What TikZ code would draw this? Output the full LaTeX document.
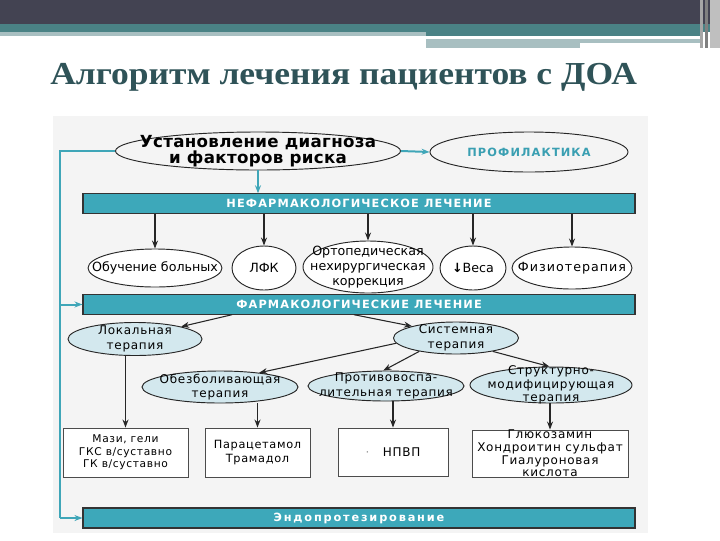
\documentclass[tikz,border=0pt]{standalone}
\usepackage{fontspec}
\usepackage{graphicx}
\setmainfont{DejaVu Sans}
\newfontfamily\titlefont{Liberation Serif}
\usetikzlibrary{shapes.geometric,arrows.meta,calc}
\definecolor{hdark}{HTML}{434352}
\definecolor{hteal}{HTML}{4A8285}
\definecolor{hlight}{HTML}{A8BFC1}
\definecolor{titlecol}{HTML}{2F5358}
\definecolor{barteal}{HTML}{3DA8BA}
\definecolor{lineteal}{HTML}{3FA6B8}
\definecolor{profteal}{HTML}{3A9FB2}
\definecolor{lblue}{HTML}{D3E8EE}
\definecolor{scan}{HTML}{F4F4F4}
\tikzset{
  bar/.style={draw=black!80, line width=0.8pt, fill=barteal, minimum width=414pt,
    minimum height=14.5pt, inner sep=0pt, text=white,
    font=\bfseries\fontsize{8.5}{10}\selectfont\addfontfeature{LetterSpace=10}},
  ov/.style={ellipse, draw=black!85, line width=0.7pt, inner sep=-80pt, align=center,
    fill=white, font=\fontsize{9.5}{11}\selectfont},
  bl/.style={ov, fill=lblue, font=\fontsize{9}{11}\selectfont\addfontfeature{LetterSpace=6}},
  bx/.style={rectangle, draw=black!70, line width=0.7pt, fill=white, inner sep=0pt,
    align=center, font=\fontsize{8}{9.5}\selectfont\addfontfeature{LetterSpace=6}},
  arr/.style={-{Stealth[length=6pt,width=4.5pt]}, line width=0.8pt, draw=black!85},
  tarr/.style={-{Stealth[length=6pt,width=4.5pt]}, line width=1.5pt, draw=lineteal},
  tline/.style={line width=1.5pt, draw=lineteal}
}
\begin{document}
\begin{tikzpicture}[x=0.75pt,y=-0.75pt]
\useasboundingbox (0,0) rectangle (720,540);
% header
\fill[white] (0,0) rectangle (720,540);
\fill[hdark] (0,0) rectangle (720,24);
\fill[hteal] (0,24) rectangle (720,32);
\fill[hlight] (0,32) rectangle (426,36);
\fill[hteal] (426,32) rectangle (700,36);
\fill[hlight] (426,39) rectangle (700,43);
\fill[hlight] (426,43) rectangle (580,48);
\fill[black!35] (700,0) rectangle (703,48);
\fill[black!50] (705,0) rectangle (708,48);
\fill[black!25] (710,0) rectangle (720,48);
% title
\node[anchor=base west, inner sep=0pt, text=titlecol] (title) at (50,84)
  {\scalebox{1.11}[1]{\titlefont\bfseries\fontsize{24}{28}\selectfont Алгоритм лечения пациентов с ДОА}};
% scanned area
\fill[scan] (53,116) rectangle (648,533);
% top ellipses
\node[ov, fill=none, minimum width=213.75pt, minimum height=28.5pt,
  font=\bfseries\fontsize{12.5}{11.5}\selectfont\addfontfeature{LetterSpace=2}] (diag) at (258,151)
  {Установление диагноза\\и факторов риска};
\node[ov, fill=none, minimum width=148.5pt, minimum height=30pt, text=profteal,
  font=\bfseries\fontsize{8.5}{9}\selectfont\addfontfeature{LetterSpace=10}] (prof) at (529,152) {ПРОФИЛАКТИКА};
% bars
\node[bar] (bar1) at (359,203.5) {НЕФАРМАКОЛОГИЧЕСКОЕ ЛЕЧЕНИЕ};
\node[bar] (bar2) at (359,304.5) {ФАРМАКОЛОГИЧЕСКИЕ ЛЕЧЕНИЕ};
\node[bar, minimum height=15pt, font=\bfseries\fontsize{8.5}{10}\selectfont\addfontfeature{LetterSpace=16}] (bar3) at (359,518) {Эндопротезирование};
% row 2
\node[ov, minimum width=100.5pt, minimum height=28.5pt] (e1) at (155,268) {Обучение больных};
\node[ov, minimum width=48pt, minimum height=33pt] (e2) at (264,268) {ЛФК};
\node[ov, minimum width=97.5pt, minimum height=39pt, font=\fontsize{9.5}{11}\selectfont] (e3) at (368,267)
  {Ортопедическая\\нехирургическая\\коррекция};
\node[ov, minimum width=49.5pt, minimum height=33pt] (e4) at (473,268) {\textbf{↓}Веса};
\node[ov, minimum width=90pt, minimum height=31.5pt,
  font=\fontsize{9.5}{11}\selectfont\addfontfeature{LetterSpace=8}] (e5) at (572,268) {Физиотерапия};
% row 3
\node[bl, minimum width=100.5pt, minimum height=24.75pt] (loc) at (135,339) {Локальная\\терапия};
\node[bl, minimum width=93.75pt, minimum height=24pt] (sys) at (456,338) {Системная\\терапия};
% row 4
\node[bl, minimum width=117pt, minimum height=24pt] (obz) at (220,387) {Обезболивающая\\терапия};
\node[bl, minimum width=117pt, minimum height=22.5pt] (prot) at (386,386) {Противовоспа-\\лительная терапия};
\node[bl, minimum width=121.5pt, minimum height=27pt, font=\fontsize{9}{10}\selectfont\addfontfeature{LetterSpace=6}] (str) at (551,385)
  {Структурно-\\модифицирующая\\терапия};
% boxes
\node[bx, minimum width=93.75pt, minimum height=36.75pt] (box1) at (125.5,452.5)
  {Мази, гели\\ГКС в/суставно\\ГК в/суставно};
\node[bx, minimum width=78.75pt, minimum height=36.75pt, font=\fontsize{8.5}{10}\selectfont\addfontfeature{LetterSpace=6}] (box2) at (257.5,452.5)
  {Парацетамол\\Трамадол};
\node[bx, minimum width=82.5pt, minimum height=36pt, font=\fontsize{9}{10}\selectfont\addfontfeature{LetterSpace=6}] (box3) at (393,452)
  {{\color{black!40}·}\hspace{10pt}НПВП};
\node[bx, minimum width=117pt, minimum height=35.25pt, font=\fontsize{9}{9.5}\selectfont\addfontfeature{LetterSpace=6}] (box4) at (550,453.5)
  {Глюкозамин\\Хондроитин сульфат\\Гиалуроновая\\кислота};
% teal connectors
\coordinate (L) at (60,151);
\draw[tline] (diag.west) -- (diag.west -| L) -- (L |- bar3);
\draw[tarr] (L |- bar2) -- (bar2.west);
\draw[tarr] (L |- bar3) -- (bar3.west);
\draw[tarr] (diag.east) -- (prof.west);
\draw[tarr] (diag.south) -- (bar1.north -| diag.south);
% black connectors
\foreach \n in {e1,e2,e3,e4,e5} \draw[arr] (bar1.south -| \n.north) -- (\n.north);
\draw[arr] ($(bar2.south)+(-127,0)$) -- (loc.15);
\draw[arr] ($(bar2.south)+(-5,0)$) -- (sys.165);
\draw[arr] (sys.185) -- (obz.20);
\draw[arr] (sys.200) -- (prot.100);
\draw[arr] (sys.-20) -- (str.95);
\draw[arr] (loc.south -| box1.north) -- (box1.north);
\draw[arr] (obz.south -| box2.north) -- (box2.north);
\draw[arr] (prot.south -| box3.north) -- (box3.north);
\draw[arr] (str.south -| box4.north) -- (box4.north);
\end{tikzpicture}
\end{document}
